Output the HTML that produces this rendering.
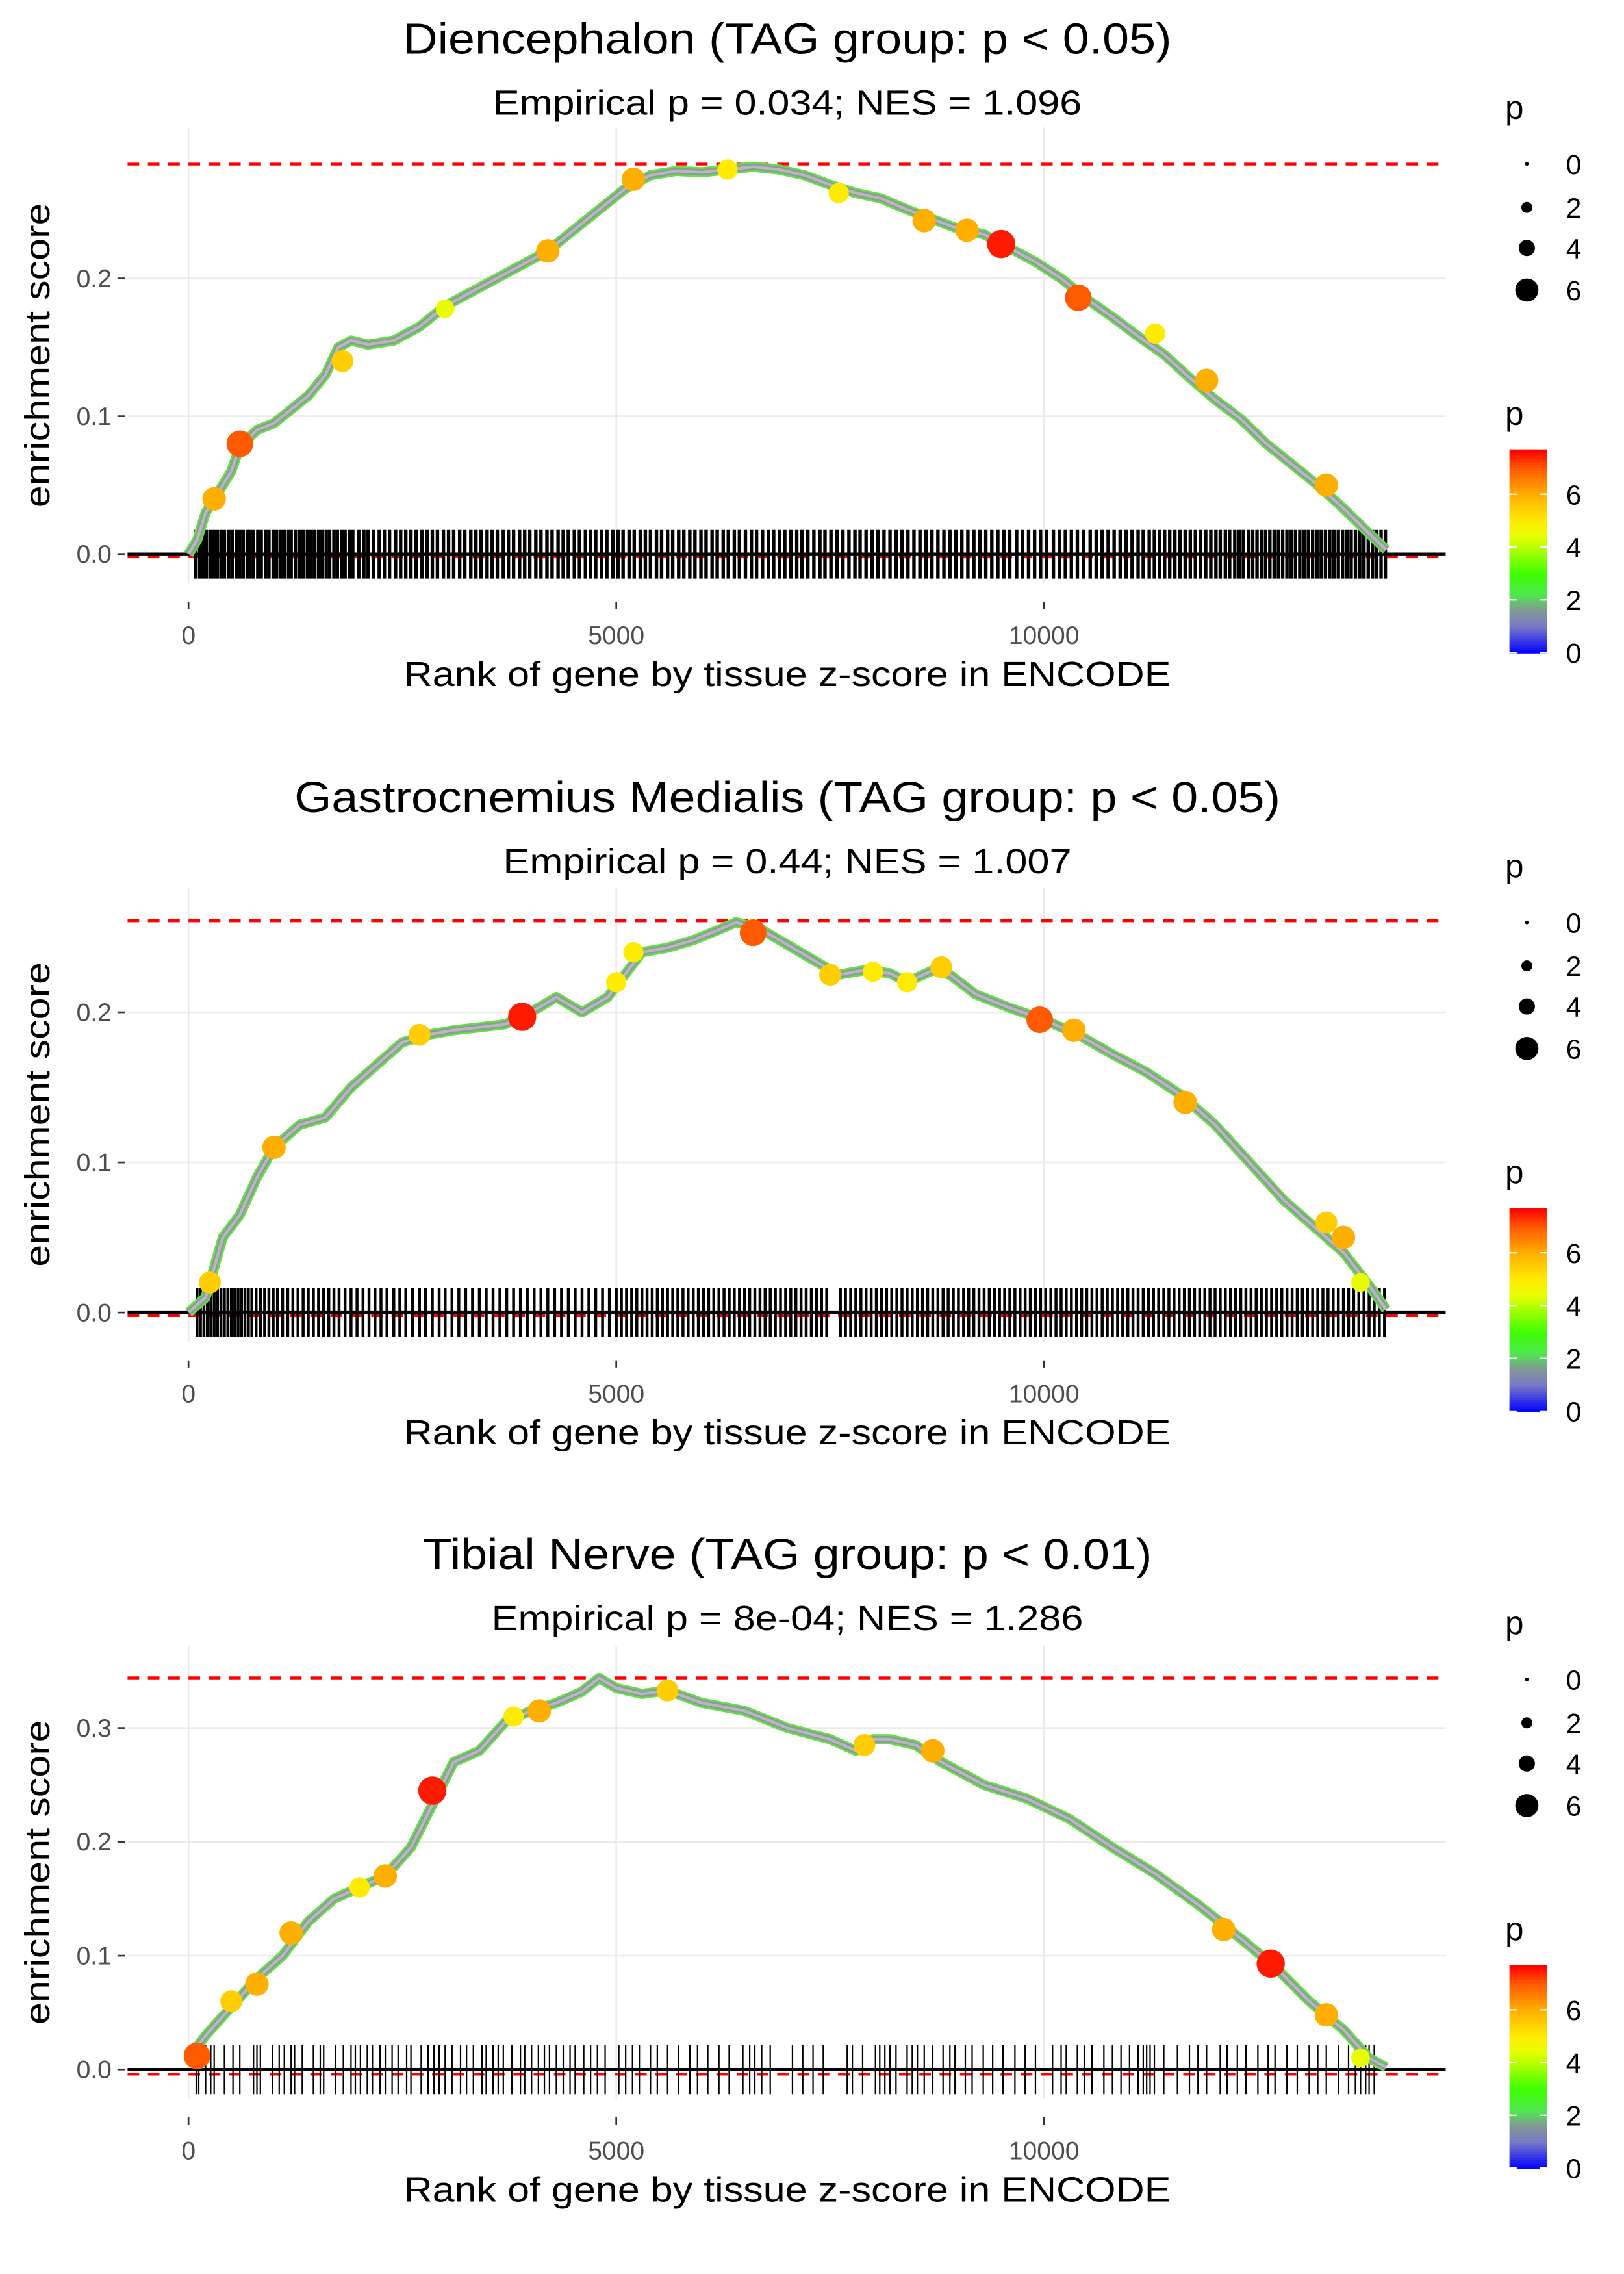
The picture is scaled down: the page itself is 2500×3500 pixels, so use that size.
<!DOCTYPE html>
<html><head><meta charset="utf-8"><style>
html,body{margin:0;padding:0;background:#fff}
svg{display:block}
text{font-family:"Liberation Sans",sans-serif}
</style></head><body>
<svg id="chart" width="2500" height="3500" viewBox="0 0 1120 1568" xmlns="http://www.w3.org/2000/svg"></svg>
<script>
// ---------- data ----------
const titles = ["Diencephalon (TAG group: p < 0.05)","Gastrocnemius Medialis (TAG group: p < 0.05)","Tibial Nerve (TAG group: p < 0.01)"];
const titleWidths = [530,680,503];
const subtitles = ["Empirical p = 0.034; NES = 1.096","Empirical p = 0.44; NES = 1.007","Empirical p = 8e-04; NES = 1.286"];
const subtitleWidths = [406,392,408];
const xTicks = [0,5000,10000];
const yTicks1 = [0.0,0.1,0.2];
const yTicks2 = [0.0,0.1,0.2];
const yTicks3 = [0.0,0.1,0.2,0.3];
const esMax = [0.283,0.261,0.344];
const esMin = [-0.002,-0.002,-0.004];

const curveRank1 = [0,100,200,350,500,600,800,1000,1200,1400,1600,1750,1900,2100,2400,2700,3000,3300,3600,3900,4200,4500,4800,5100,5400,5700,6000,6300,6600,6900,7200,7500,7800,8100,8400,8700,9000,9300,9600,9900,10200,10500,10800,11100,11400,11700,12000,12300,12600,12900,13200,13500,13800,14000];
const curveES1 = [0,0.01,0.03,0.045,0.06,0.078,0.09,0.095,0.105,0.115,0.13,0.15,0.155,0.152,0.155,0.165,0.18,0.19,0.2,0.21,0.22,0.235,0.25,0.265,0.275,0.278,0.277,0.279,0.281,0.279,0.275,0.268,0.262,0.258,0.25,0.243,0.236,0.232,0.222,0.212,0.2,0.185,0.172,0.158,0.145,0.128,0.112,0.098,0.08,0.065,0.05,0.033,0.015,0.003];
const curveRank2 = [0,200,300,400,600,800,1000,1300,1600,1900,2200,2500,2800,3100,3400,3700,4000,4300,4600,4900,5100,5300,5600,5900,6200,6400,6700,7000,7300,7600,7900,8200,8400,8700,8900,9200,9600,10000,10400,10800,11200,11600,12000,12400,12800,13200,13500,13800,14000];
const curveES2 = [0,0.01,0.03,0.05,0.065,0.09,0.11,0.125,0.13,0.15,0.165,0.18,0.185,0.188,0.19,0.192,0.2,0.21,0.2,0.21,0.225,0.24,0.243,0.248,0.255,0.26,0.255,0.245,0.235,0.225,0.228,0.226,0.22,0.228,0.225,0.212,0.203,0.195,0.185,0.172,0.16,0.145,0.125,0.1,0.075,0.055,0.04,0.018,0.002];
const curveRank3 = [0,200,500,800,1100,1400,1700,2000,2300,2600,2900,3100,3400,3700,4000,4300,4600,4800,5000,5300,5600,6000,6500,7000,7500,7800,8000,8200,8500,8800,9300,9800,10300,10800,11300,11800,12300,12700,13100,13500,13800,14000];
const curveES3 = [0.01,0.03,0.055,0.08,0.1,0.13,0.15,0.16,0.17,0.195,0.24,0.27,0.28,0.305,0.315,0.322,0.332,0.344,0.335,0.33,0.333,0.322,0.315,0.3,0.29,0.28,0.29,0.29,0.285,0.27,0.25,0.238,0.22,0.195,0.172,0.145,0.115,0.09,0.06,0.035,0.01,0.002];

const ptRank1 = [300,600,1800,3000,4200,5200,6300,7600,8600,9100,9500,10400,11300,11900,13300];
const ptES1 = [0.04,0.08,0.14,0.178,0.22,0.272,0.279,0.262,0.242,0.235,0.225,0.186,0.16,0.126,0.05];
const ptP1 = [6,7,5.5,4.5,6,6,5,5,6,6,7.5,7,5,6,6];
const ptRank2 = [250,1000,2700,3900,5000,5200,6600,7500,8000,8400,8800,9950,10350,11650,13300,13500,13700];
const ptES2 = [0.02,0.11,0.185,0.197,0.22,0.24,0.253,0.225,0.227,0.22,0.23,0.195,0.188,0.14,0.06,0.05,0.02];
const ptP2 = [5.5,6,5.5,7.5,5,5,7,5.5,5,5,5.5,7,6,6,5.5,6,4.5];
const ptRank3 = [100,500,800,1200,2000,2300,2850,3800,4100,5600,7900,8700,12100,12650,13300,13700];
const ptES3 = [0.012,0.06,0.075,0.12,0.16,0.17,0.245,0.31,0.315,0.333,0.285,0.28,0.123,0.093,0.048,0.01];
const ptP3 = [7,5.5,6,6,5,6,7.5,5,6,5.5,5.5,6,6,7.5,6,4.5];

const hits1 = [80,130,170,210,260,300,340,390,420,470,510,560,600,640,690,720,760,810,850,900,940,990,1030,1080,1120,1170,1200,1250,1300,1340,1390,1430,1470,1520,1560,1610,1650,1700,1740,1790,1830,1880,1920,1990,2050,2100,2160,2230,2290,2350,2420,2480,2540,2600,2660,2730,2790,2850,2910,2980,3040,3100,3170,3230,3300,3360,3420,3490,3550,3610,3680,3740,3800,3870,3930,3990,4060,4120,4190,4250,4320,4380,4440,4510,4570,4640,4700,4760,4830,4890,4960,5020,5080,5150,5210,5280,5340,5400,5470,5530,5600,5660,5730,5790,5860,5920,5990,6050,6120,6180,6250,6310,6380,6440,6510,6580,6640,6710,6780,6840,6910,6970,7040,7110,7170,7240,7310,7380,7440,7510,7580,7650,7720,7790,7850,7920,7990,8060,8130,8200,8270,8340,8410,8480,8550,8620,8690,8760,8830,8900,8970,9040,9110,9180,9250,9320,9390,9460,9530,9600,9680,9750,9820,9890,9960,10030,10110,10180,10250,10320,10390,10460,10540,10610,10680,10750,10820,10890,10960,11030,11100,11160,11230,11290,11350,11410,11470,11530,11590,11650,11710,11770,11830,11890,11950,12010,12060,12120,12170,12230,12280,12330,12390,12440,12490,12540,12590,12640,12690,12740,12790,12840,12890,12940,12990,13040,13090,13140,13190,13240,13290,13340,13390,13440,13490,13540,13590,13640,13690,13740,13790,13840,13890,13940,13990];
const hits2 = [100,140,180,220,260,300,340,380,420,460,500,540,580,620,660,700,740,790,840,890,940,990,1040,1100,1160,1220,1280,1340,1400,1460,1520,1580,1640,1700,1760,1830,1900,1970,2040,2110,2180,2250,2320,2400,2470,2540,2620,2700,2770,2850,2930,3000,3080,3160,3240,3320,3400,3480,3560,3640,3720,3800,3880,3960,4040,4120,4200,4280,4360,4440,4520,4600,4680,4760,4840,4920,5000,5060,5120,5180,5240,5300,5360,5420,5480,5540,5600,5660,5720,5780,5840,5900,5960,6020,6080,6140,6200,6260,6320,6380,6440,6500,6560,6620,6680,6740,6800,6860,6920,6980,7040,7100,7160,7220,7280,7340,7400,7460,7620,7680,7740,7800,7860,7920,7980,8040,8100,8160,8220,8280,8340,8400,8460,8520,8580,8640,8700,8760,8820,8880,8940,9000,9060,9120,9180,9240,9300,9360,9420,9480,9540,9600,9660,9720,9780,9840,9900,9960,10020,10080,10140,10200,10260,10320,10380,10440,10500,10560,10620,10680,10740,10800,10860,10920,10980,11040,11100,11160,11220,11280,11340,11400,11460,11520,11580,11640,11700,11760,11820,11880,11940,12000,12060,12120,12180,12240,12300,12360,12420,12480,12540,12600,12660,12720,12780,12840,12900,12960,13020,13080,13140,13200,13260,13320,13380,13440,13500,13560,13620,13680,13740,13800,13860,13920,13980];
const hits3 = [90,120,200,260,300,420,520,600,760,800,840,980,1060,1120,1200,1240,1330,1460,1540,1580,1720,1810,1900,1950,2010,2090,2150,2240,2300,2380,2450,2550,2600,2720,2800,2870,2930,3000,3080,3180,3250,3330,3430,3480,3560,3620,3680,3780,3880,3930,4010,4090,4160,4220,4300,4380,4460,4520,4620,4700,4780,4870,5030,5110,5190,5270,5400,5480,5600,5730,5860,5950,6070,6200,6320,6480,6560,6620,6700,6800,7060,7180,7300,7420,7700,7760,7880,8030,8080,8140,8200,8270,8400,8460,8520,8600,8700,8820,8900,8960,9080,9160,9290,9400,9520,9660,9780,9900,10100,10200,10260,10390,10470,10560,10700,10800,10900,11000,11100,11160,11200,11240,11290,11400,11560,11700,11800,11900,12060,12140,12260,12360,12500,12620,12700,12840,12960,13100,13200,13300,13440,13560,13640,13700,13760,13800,13860];

const sizeLegendVals = [0,2,4,6];
const colorLegendVals = [0,2,4,6];

// ---------- helpers ----------
const NS="http://www.w3.org/2000/svg";
const svg=document.getElementById('chart');
function el(tag,attrs,parent,txt){const e=document.createElementNS(NS,tag);for(const k in attrs)e.setAttribute(k,attrs[k]);if(txt!==undefined)e.textContent=txt;(parent||svg).appendChild(e);return e;}
function pColor(p){
  const stops=[[0,[0,0,255]],[1,[120,120,200]],[1.6,[130,150,150]],[2.2,[80,230,80]],[3,[60,255,0]],[4.4,[230,255,0]],[5,[255,235,0]],[6,[255,175,0]],[7,[255,90,0]],[7.7,[255,0,0]]];
  if(p<=0)return 'rgb(0,0,255)';
  for(let i=1;i<stops.length;i++){if(p<=stops[i][0]){const a=stops[i-1],b=stops[i];const t=(p-a[0])/(b[0]-a[0]);const c=a[1].map((v,j)=>Math.round(v+(b[1][j]-v)*t));return 'rgb('+c.join(',')+')';}}
  return 'rgb(255,0,0)';
}
function pRadius(p){return 1.5+1.1*p;}

const panels=[
 {top:0,y0:382,yScale:950,yTicks:yTicks1,cr:curveRank1,ce:curveES1,pr:ptRank1,pe:ptES1,pp:ptP1,hits:hits1,gtop:88,legTop:0,hw:2.4},
 {top:523,y0:905,yScale:1035,yTicks:yTicks2,cr:curveRank2,ce:curveES2,pr:ptRank2,pe:ptES2,pp:ptP2,hits:hits2,gtop:612,legTop:523,hw:2.0},
 {top:1045,y0:1427,yScale:785,yTicks:yTicks3,cr:curveRank3,ce:curveES3,pr:ptRank3,pe:ptES3,pp:ptP3,hits:hits3,gtop:1135,legTop:1045,hw:1.0}
];
const X0=130, XS=0.059, XL=88, XR=997;

panels.forEach((P,i)=>{
  const g=el('g',{});
  
  
  const xs=r=>X0+r*XS, ys=v=>P.y0-v*P.yScale;
  const gbot=P.y0+20;
  P.yTicks.forEach(t=>{const l=el('line',{x1:XL,x2:XR,y1:ys(t),y2:ys(t),stroke:'#ebebeb','stroke-width':1.2},g);
    });
  xTicks.forEach(t=>{const l=el('line',{x1:xs(t),x2:xs(t),y1:P.gtop,y2:gbot,stroke:'#ebebeb','stroke-width':1.2},g);
    });
  const dmax=el('line',{x1:XL,x2:XR,y1:ys(esMax[i]),y2:ys(esMax[i]),stroke:'#ff0000','stroke-width':2,'stroke-dasharray':'8 6'},g);
  
  const dmin=el('line',{x1:XL,x2:XR,y1:ys(esMin[i]),y2:ys(esMin[i]),stroke:'#ff0000','stroke-width':2,'stroke-dasharray':'8 6'},g);
  
  const bc=el('g',{},g);
  
  P.hits.forEach(h=>{const l=el('line',{x1:xs(h),x2:xs(h),y1:P.y0-17,y2:P.y0+17,stroke:'#000','stroke-width':P.hw},bc);
    });
  const z=el('line',{x1:XL,x2:XR,y1:P.y0,y2:P.y0,stroke:'#000','stroke-width':2},g);
  
  const pts=P.cr.map((r,k)=>xs(r).toFixed(1)+','+ys(P.ce[k]).toFixed(1)).join(' ');
  const c1=el('polyline',{points:pts,fill:'none',stroke:'#66e040','stroke-width':7,'stroke-linejoin':'round'},g);
  
  const c2=el('polyline',{points:pts,fill:'none',stroke:'#8a9aa0','stroke-width':4.5,'stroke-linejoin':'round'},g);
  
  const c3=el('polyline',{points:pts,fill:'none',stroke:'#b8b8b8','stroke-width':2,'stroke-linejoin':'round'},g);
  
  P.pr.forEach((r,k)=>{const c=el('circle',{cx:xs(r),cy:ys(P.pe[k]),r:pRadius(P.pp[k]),fill:pColor(P.pp[k])},g);
    });
  P.yTicks.forEach(t=>{const tx=el('text',{x:77,y:ys(t)+6,'text-anchor':'end','font-size':17.5,fill:'#4d4d4d'},g,t.toFixed(1));
    
    const tk=el('line',{x1:81,x2:86,y1:ys(t),y2:ys(t),stroke:'#333','stroke-width':1.2},g);
    });
  xTicks.forEach(t=>{const tx=el('text',{x:xs(t),y:P.y0+62,'text-anchor':'middle','font-size':17.5,fill:'#4d4d4d'},g,String(t));
    
    const tk=el('line',{x1:xs(t),x2:xs(t),y1:P.y0+33,y2:P.y0+38,stroke:'#333','stroke-width':1.2},g);
    });
  const xt=el('text',{x:543,y:P.y0+91,'text-anchor':'middle','font-size':24,fill:'#000',textLength:529,lengthAdjust:'spacingAndGlyphs'},g,'Rank of gene by tissue z-score in ENCODE');
  
  const yc=(P.gtop+P.y0+20)/2;
  const yt=el('text',{x:0,y:0,'text-anchor':'middle','font-size':24,fill:'#000',textLength:210,lengthAdjust:'spacingAndGlyphs',transform:'translate(34,'+(yc)+') rotate(-90)'},g,'enrichment score');
  
  const tt=el('text',{x:543,y:P.top+37,'text-anchor':'middle','font-size':30,fill:'#000',textLength:titleWidths[i],lengthAdjust:'spacingAndGlyphs'},g,titles[i]);
  
  const st=el('text',{x:543,y:P.top+79,'text-anchor':'middle','font-size':24,fill:'#000',textLength:subtitleWidths[i],lengthAdjust:'spacingAndGlyphs'},g,subtitles[i]);
  
  const lg=el('g',{},g);
  
  const lp=el('text',{x:1038,y:P.legTop+82,'font-size':23,fill:'#000'},lg,'p');
  
  const ly=[113,143,171,200];
  sizeLegendVals.forEach((v,k)=>{const c=el('circle',{cx:1053,cy:P.legTop+ly[k],r:[1.3,3.8,5.6,8][k],fill:'#000'},lg);
    
    const t=el('text',{x:1080,y:P.legTop+ly[k]+7,'font-size':19,fill:'#000'},lg,String(v));
    });
  const cg=el('g',{},g);
  
  const cp=el('text',{x:1038,y:P.legTop+293,'font-size':23,fill:'#000'},cg,'p');
  
  const cb0=P.legTop+450, cbs=18.2, pmax=7.7;
  for(let s=0;s<70;s++){const p0=pmax*s/70,p1=pmax*(s+1)/70;
    const r=el('rect',{x:1041,y:cb0-p1*cbs,width:26,height:(p1-p0)*cbs+0.6,fill:pColor((p0+p1)/2)},cg);
    }
  colorLegendVals.forEach(v=>{const y=cb0-v*cbs;
    const a=el('line',{x1:1041,x2:1046,y1:y,y2:y,stroke:'#fff','stroke-width':1},cg);
    
    const b=el('line',{x1:1062,x2:1067,y1:y,y2:y,stroke:'#fff','stroke-width':1},cg);
    
    const t=el('text',{x:1080,y:y+7,'font-size':19,fill:'#000'},cg,String(v));
    });
});
</script>
</body></html>
